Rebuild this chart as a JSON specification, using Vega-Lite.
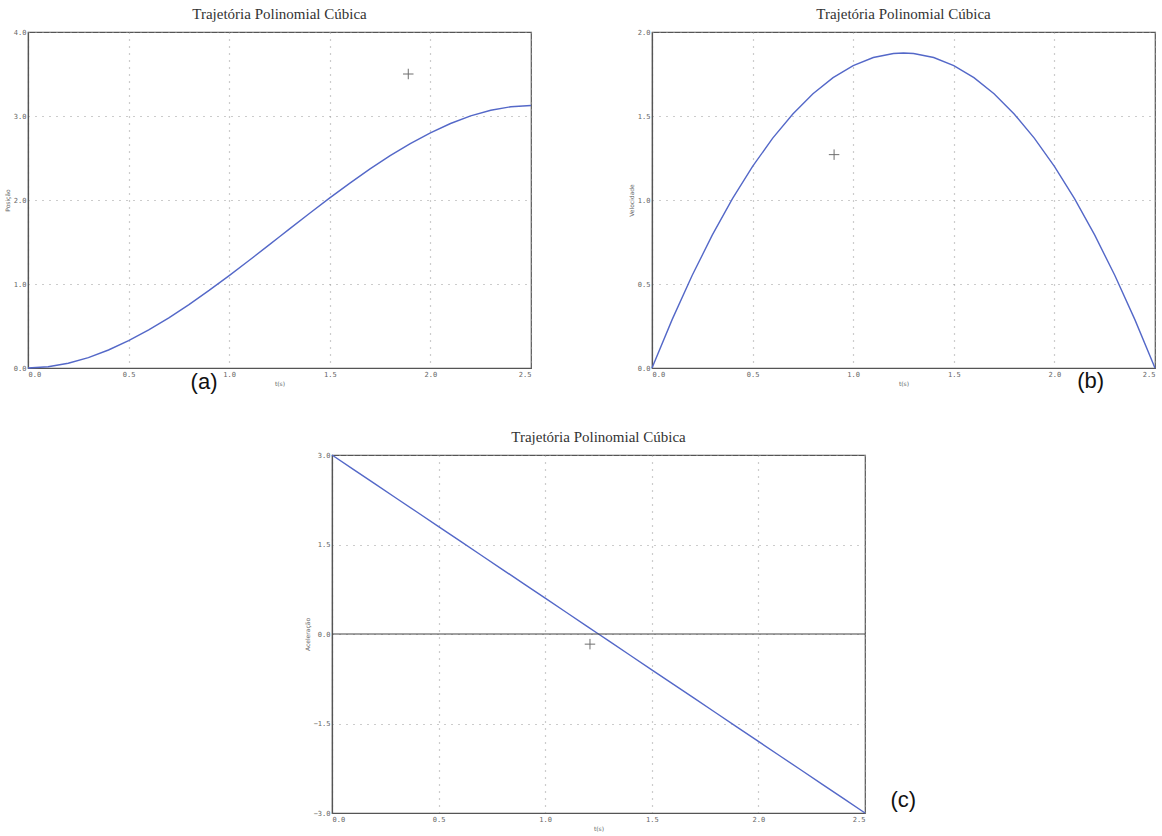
{
  "$schema": "https://vega.github.io/schema/vega-lite/v6.json",
  "background": "white",
  "padding": {"left": 3, "top": 6, "right": 2, "bottom": 2},
  "datasets": {
    "traj": [
      {"t": 0.0, "pos": 0.0, "vel": 0.0, "acc": 3.0},
      {"t": 0.1, "pos": 0.0146, "vel": 0.288, "acc": 2.76},
      {"t": 0.2, "pos": 0.0568, "vel": 0.552, "acc": 2.52},
      {"t": 0.3, "pos": 0.1242, "vel": 0.792, "acc": 2.28},
      {"t": 0.4, "pos": 0.2144, "vel": 1.008, "acc": 2.04},
      {"t": 0.5, "pos": 0.325, "vel": 1.2, "acc": 1.8},
      {"t": 0.6, "pos": 0.4536, "vel": 1.368, "acc": 1.56},
      {"t": 0.7, "pos": 0.5978, "vel": 1.512, "acc": 1.32},
      {"t": 0.8, "pos": 0.7552, "vel": 1.632, "acc": 1.08},
      {"t": 0.9, "pos": 0.9234, "vel": 1.728, "acc": 0.84},
      {"t": 1.0, "pos": 1.1, "vel": 1.8, "acc": 0.6},
      {"t": 1.1, "pos": 1.2826, "vel": 1.848, "acc": 0.36},
      {"t": 1.2, "pos": 1.4688, "vel": 1.872, "acc": 0.12},
      {"t": 1.25, "pos": 1.5625, "vel": 1.875, "acc": 0.0},
      {"t": 1.3, "pos": 1.6562, "vel": 1.872, "acc": -0.12},
      {"t": 1.4, "pos": 1.8424, "vel": 1.848, "acc": -0.36},
      {"t": 1.5, "pos": 2.025, "vel": 1.8, "acc": -0.6},
      {"t": 1.6, "pos": 2.2016, "vel": 1.728, "acc": -0.84},
      {"t": 1.7, "pos": 2.3698, "vel": 1.632, "acc": -1.08},
      {"t": 1.8, "pos": 2.5272, "vel": 1.512, "acc": -1.32},
      {"t": 1.9, "pos": 2.6714, "vel": 1.368, "acc": -1.56},
      {"t": 2.0, "pos": 2.8, "vel": 1.2, "acc": -1.8},
      {"t": 2.1, "pos": 2.9106, "vel": 1.008, "acc": -2.04},
      {"t": 2.2, "pos": 3.0008, "vel": 0.792, "acc": -2.28},
      {"t": 2.3, "pos": 3.0682, "vel": 0.552, "acc": -2.52},
      {"t": 2.4, "pos": 3.1104, "vel": 0.288, "acc": -2.76},
      {"t": 2.5, "pos": 3.125, "vel": 0.0, "acc": -3.0}
    ]
  },
  "config": {
    "view": {"stroke": "#555", "strokeWidth": 1.2},
    "title": {"font": "Liberation Serif", "fontSize": 15, "fontWeight": "normal", "color": "#333", "offset": 6},
    "axis": {
      "domainColor": "#555",
      "domainWidth": 1.2,
      "ticks": false,
      "labelFont": "DejaVu Sans Mono",
      "labelFontSize": 7,
      "labelColor": "#666",
      "labelPadding": 2,
      "titleFont": "DejaVu Sans",
      "titleFontSize": 6,
      "titleFontWeight": "normal",
      "titleColor": "#666",
      "titlePadding": 3,
      "grid": true,
      "gridColor": "#999",
      "gridDash": [1, 6],
      "gridWidth": 1.2,
      "format": ".1f"
    }
  },
  "vconcat": [
    {
      "hconcat": [
        {
          "width": 503,
          "height": 336,
          "title": "Trajetória Polinomial Cúbica",
          "layer": [
            {
              "data": {"name": "traj"},
              "mark": {"type": "line", "color": "#5468c8", "strokeWidth": 1.4},
              "encoding": {
                "x": {"field": "t", "type": "quantitative", "scale": {"domain": [0, 2.5], "nice": false}, "axis": {"values": [0, 0.5, 1, 1.5, 2, 2.5], "title": "t(s)"}},
                "y": {"field": "pos", "type": "quantitative", "scale": {"domain": [0, 4], "nice": false}, "axis": {"values": [0, 1, 2, 3, 4], "title": "Posição"}}
              }
            },
            {
              "data": {"values": [{"t": 1.89, "pos": 3.5}]},
              "mark": {"type": "point", "shape": "M-1,0L1,0M0,-1L0,1", "size": 110, "filled": false, "stroke": "#333", "strokeWidth": 1},
              "encoding": {"x": {"field": "t", "type": "quantitative"}, "y": {"field": "pos", "type": "quantitative"}}
            },
            {
              "data": {"values": [{"t": 0.875, "pos": -0.17, "lab": "(a)"}]},
              "mark": {"type": "text", "font": "Liberation Sans", "fontSize": 22, "color": "#111", "baseline": "middle"},
              "encoding": {"x": {"field": "t", "type": "quantitative"}, "y": {"field": "pos", "type": "quantitative"}, "text": {"field": "lab"}}
            }
          ]
        },
        {
          "width": 503,
          "height": 336,
          "title": "Trajetória Polinomial Cúbica",
          "layer": [
            {
              "data": {"name": "traj"},
              "mark": {"type": "line", "color": "#5468c8", "strokeWidth": 1.4},
              "encoding": {
                "x": {"field": "t", "type": "quantitative", "scale": {"domain": [0, 2.5], "nice": false}, "axis": {"values": [0, 0.5, 1, 1.5, 2, 2.5], "title": "t(s)"}},
                "y": {"field": "vel", "type": "quantitative", "scale": {"domain": [0, 2], "nice": false}, "axis": {"values": [0, 0.5, 1, 1.5, 2], "title": "Velocidade"}}
              }
            },
            {
              "data": {"values": [{"t": 0.905, "vel": 1.27}]},
              "mark": {"type": "point", "shape": "M-1,0L1,0M0,-1L0,1", "size": 110, "filled": false, "stroke": "#333", "strokeWidth": 1},
              "encoding": {"x": {"field": "t", "type": "quantitative"}, "y": {"field": "vel", "type": "quantitative"}}
            },
            {
              "data": {"values": [{"t": 2.18, "vel": -0.08, "lab": "(b)"}]},
              "mark": {"type": "text", "font": "Liberation Sans", "fontSize": 22, "color": "#111", "baseline": "middle"},
              "encoding": {"x": {"field": "t", "type": "quantitative"}, "y": {"field": "vel", "type": "quantitative"}, "text": {"field": "lab"}}
            }
          ]
        }
      ],
      "spacing": 92
    },
    {
      "hconcat": [
        {
          "width": 265,
          "height": 10,
          "view": {"stroke": null},
          "data": {"values": []},
          "mark": {"type": "point"},
          "encoding": {}
        },
        {
          "width": 533,
          "height": 358,
          "title": "Trajetória Polinomial Cúbica",
          "layer": [
            {
              "data": {"name": "traj"},
              "mark": {"type": "line", "color": "#5468c8", "strokeWidth": 1.4},
              "encoding": {
                "x": {"field": "t", "type": "quantitative", "scale": {"domain": [0, 2.5], "nice": false}, "axis": {"values": [0, 0.5, 1, 1.5, 2, 2.5], "title": "t(s)"}},
                "y": {"field": "acc", "type": "quantitative", "scale": {"domain": [-3, 3], "nice": false}, "axis": {"values": [-3, -1.5, 0, 1.5, 3], "title": "Aceleração"}}
              }
            },
            {
              "data": {"values": [{"acc": 0}]},
              "mark": {"type": "rule", "color": "#444", "strokeWidth": 1.2},
              "encoding": {"y": {"field": "acc", "type": "quantitative"}}
            },
            {
              "data": {"values": [{"t": 1.21, "acc": -0.17}]},
              "mark": {"type": "point", "shape": "M-1,0L1,0M0,-1L0,1", "size": 110, "filled": false, "stroke": "#333", "strokeWidth": 1},
              "encoding": {"x": {"field": "t", "type": "quantitative"}, "y": {"field": "acc", "type": "quantitative"}}
            },
            {
              "data": {"values": [{"t": 2.68, "acc": -2.78, "lab": "(c)"}]},
              "mark": {"type": "text", "font": "Liberation Sans", "fontSize": 22, "color": "#111", "baseline": "middle"},
              "encoding": {"x": {"field": "t", "type": "quantitative"}, "y": {"field": "acc", "type": "quantitative"}, "text": {"field": "lab"}}
            }
          ]
        }
      ],
      "spacing": 10
    }
  ],
  "spacing": 35
}
